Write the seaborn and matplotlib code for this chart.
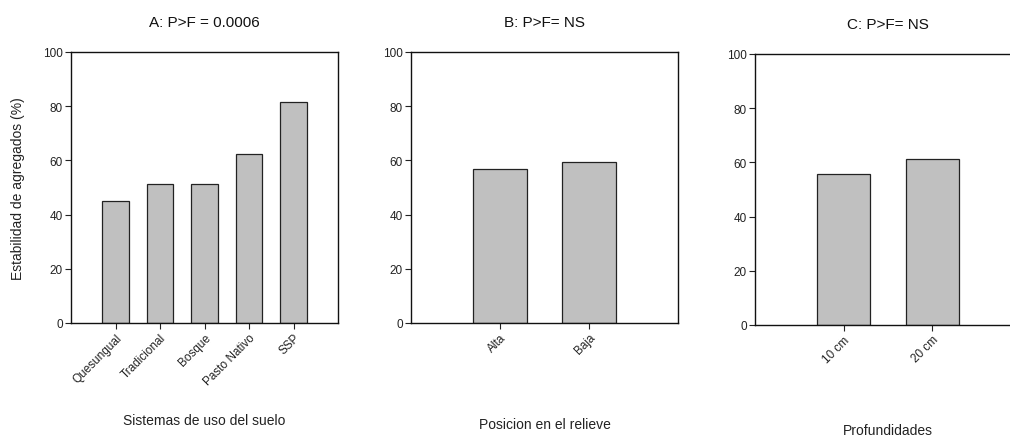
import matplotlib
matplotlib.use("Agg")
import matplotlib.pyplot as plt
import seaborn as sns
import pandas as pd

sns.set_theme(style="white")
plt.rcParams['font.family'] = ['Liberation Sans', 'DejaVu Sans']

# Data
sistemas = ["Quesungual", "Tradicional", "Bosque", "Pasto Nativo", "SSP"]
estab_sistemas = [45.0, 51.3, 51.3, 62.2, 81.7]

relieve = ["Alta", "Baja"]
estab_relieve = [57.0, 59.4]

profundidades = ["10 cm", "20 cm"]
estab_prof = [55.6, 61.1]

titles = ["A: P>F = 0.0006", "B: P>F= NS", "C: P>F= NS"]
xlabels = ["Sistemas de uso del suelo", "Posicion en el relieve", "Profundidades"]
ylabel = "Estabilidad de agregados (%)"
yticks = [0, 20, 40, 60, 80, 100]

W, H = 1010, 439
fig = plt.figure(figsize=(W / 100, H / 100), dpi=100)

def ax_rect(x0, x1, ytop, ybot):
    return [x0 / W, 1 - ybot / H, (x1 - x0) / W, (ybot - ytop) / H]

panels = [
    (sistemas, estab_sistemas, ax_rect(71, 338, 53, 324), -0.358),
    (relieve, estab_relieve, ax_rect(411, 678, 53, 324), -0.373),
    (profundidades, estab_prof, ax_rect(755, 1021, 55, 326), -0.388),
]

for i, (cats, vals, rect, xlab_y) in enumerate(panels):
    ax = fig.add_axes(rect)
    df = pd.DataFrame({"cat": cats, "val": vals})
    sns.barplot(data=df, x="cat", y="val", ax=ax, color="#c0c0c0",
                edgecolor="#222222", linewidth=0.9, width=0.6, saturation=1)
    ax.set_xlim(-1, len(cats))
    ax.set_ylim(0, 100)
    ax.set_yticks(yticks)
    ax.set_yticklabels([str(t) for t in yticks], fontsize=8.5, color="#222222")
    ax.set_xticks(range(len(cats)))
    ax.set_xticklabels(cats, rotation=45, ha="right", rotation_mode="anchor",
                       fontsize=8.5, color="#222222")
    ax.tick_params(axis="both", direction="out", length=4, width=0.8,
                   color="#222222", left=True, bottom=True, pad=2)
    for s in ax.spines.values():
        s.set_visible(True)
        s.set_color("#111111")
        s.set_linewidth(1.0)
    ax.set_title(titles[i], fontsize=11, pad=19, color="#111111")
    ax.set_xlabel(xlabels[i], fontsize=10, color="#222222")
    ax.xaxis.label.set_va("center")
    ax.xaxis.set_label_coords(0.5, xlab_y)
    if i == 0:
        ax.set_ylabel(ylabel, fontsize=10, color="#222222")
        ax.yaxis.label.set_va("center")
        ax.yaxis.set_label_coords(-0.198, 0.5)
    else:
        ax.set_ylabel("")

fig.savefig("out.png", dpi=100)
